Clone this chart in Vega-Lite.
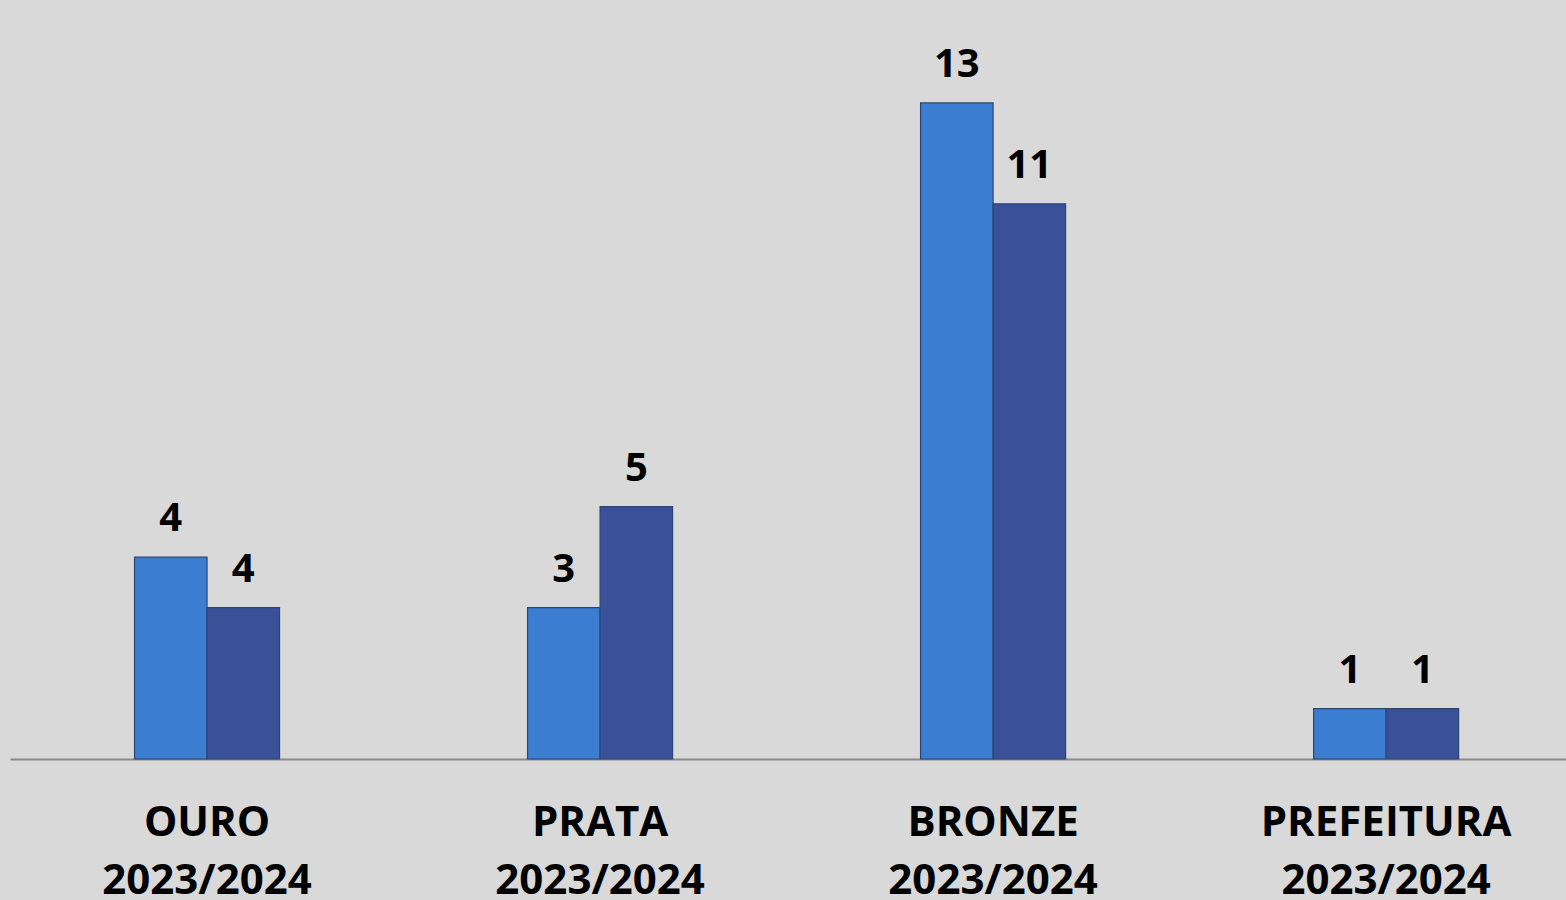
{
  "$schema": "https://vega.github.io/schema/vega-lite/v6.json",
  "width": 1556,
  "height": 757,
  "autosize": {"type": "none"},
  "padding": {"left": 10, "top": 2, "right": 0, "bottom": 141},
  "background": "#d9d9d9",
  "config": {"view": {"stroke": null}, "font": "Open Sans"},
  "data": {
    "values": [
      {"categoria": "OURO 2023/2024", "serie": "2023", "valor": 4, "rotulo": "4"},
      {"categoria": "OURO 2023/2024", "serie": "2024", "valor": 3, "rotulo": "4"},
      {"categoria": "PRATA 2023/2024", "serie": "2023", "valor": 3, "rotulo": "3"},
      {"categoria": "PRATA 2023/2024", "serie": "2024", "valor": 5, "rotulo": "5"},
      {"categoria": "BRONZE 2023/2024", "serie": "2023", "valor": 13, "rotulo": "13"},
      {"categoria": "BRONZE 2023/2024", "serie": "2024", "valor": 11, "rotulo": "11"},
      {"categoria": "PREFEITURA 2023/2024", "serie": "2023", "valor": 1, "rotulo": "1"},
      {"categoria": "PREFEITURA 2023/2024", "serie": "2024", "valor": 1, "rotulo": "1"}
    ]
  },
  "encoding": {
    "x": {
      "field": "categoria",
      "type": "nominal",
      "sort": null,
      "scale": {"paddingInner": 0.631, "paddingOuter": 0.295, "align": 0.537},
      "axis": {
        "title": null,
        "labelExpr": "split(datum.label, ' ')",
        "labelAngle": 0,
        "labelFontSize": 42,
        "labelFontWeight": "bold",
        "labelColor": "#000000",
        "labelPadding": 43,
        "labelLineHeight": 58,
        "labelLimit": 0,
        "labelOverlap": false,
        "ticks": false,
        "grid": false,
        "domainColor": "#8a8a8a",
        "domainWidth": 2
      }
    },
    "xOffset": {"field": "serie", "type": "nominal", "scale": {"paddingInner": 0, "paddingOuter": 0}},
    "y": {"field": "valor", "type": "quantitative", "scale": {"domain": [0, 15], "nice": false}, "axis": null}
  },
  "layer": [
    {
      "mark": {"type": "bar", "stroke": "#2b4674", "strokeWidth": 1.2},
      "encoding": {
        "color": {
          "field": "serie",
          "type": "nominal",
          "scale": {"domain": ["2023", "2024"], "range": ["#3b7dd0", "#3a5199"]},
          "legend": null
        }
      }
    },
    {
      "mark": {"type": "text", "baseline": "alphabetic", "dy": -26, "fontSize": 40, "fontWeight": "bold", "color": "#000000"},
      "encoding": {"text": {"field": "rotulo"}}
    }
  ]
}
